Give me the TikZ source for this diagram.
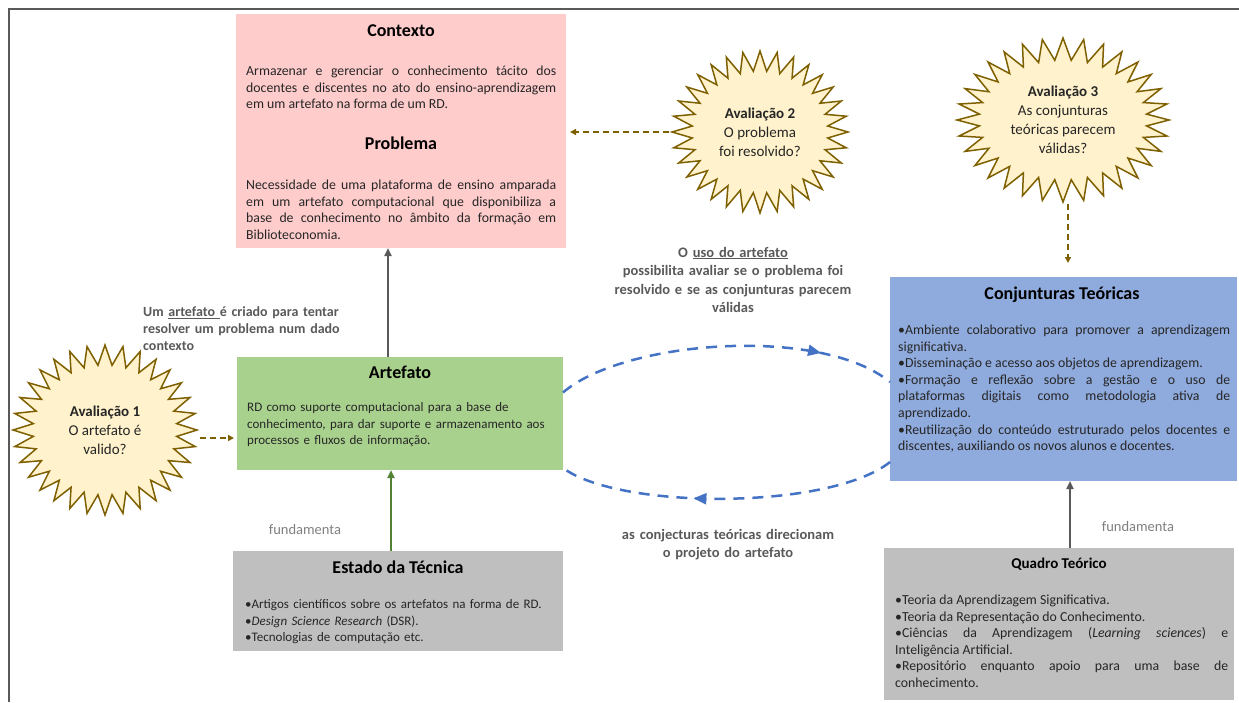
\documentclass[tikz,border=0pt]{standalone}
\usepackage{fontspec}
\setmainfont{Carlito}
\usetikzlibrary{shapes.symbols,arrows.meta,decorations.markings,calc}
\definecolor{pinkbox}{HTML}{FFCCCC}
\definecolor{greenbox}{HTML}{A9D18E}
\definecolor{graybox}{HTML}{BFBFBF}
\definecolor{bluebox}{HTML}{8FAADC}
\definecolor{starfill}{HTML}{FFF2CC}
\definecolor{stardraw}{HTML}{7F6000}
\definecolor{loopblue}{HTML}{4472C4}
\definecolor{arrgray}{HTML}{595959}
\definecolor{arrgreen}{HTML}{548235}
\definecolor{notegray}{HTML}{595959}
\definecolor{fundgray}{HTML}{7F7F7F}
\definecolor{bodytext}{HTML}{262626}
\definecolor{framecol}{HTML}{595959}
\newcommand\fsBody{\fontsize{13.8pt}{16.6pt}\selectfont}
\newcommand\fsBodyS{\fontsize{13pt}{16.6pt}\selectfont}
\newcommand\fsTitle{\fontsize{18pt}{21pt}\selectfont\bfseries}
\newcommand\fsTitleS{\fontsize{15pt}{18pt}\selectfont\bfseries}
\newcommand\fsStar{\fontsize{15pt}{19pt}\selectfont}
\newcommand\fsNote{\fontsize{14.5pt}{18.5pt}\selectfont\bfseries}
\newcommand\fsNoteL{\fontsize{14pt}{17pt}\selectfont\bfseries}
\newcommand\fsFund{\fontsize{14.5pt}{17pt}\selectfont}
\begin{document}
\begin{tikzpicture}[x=1pt,y=-1pt,
  panel/.style={rectangle, inner sep=0pt, outer sep=0pt},
  ttl/.style={inner sep=0pt, font=\fsTitle, text=black, anchor=base},
  body/.style={inner sep=0pt, font=\fsBody, text=bodytext, anchor=base west},
  burst/.style={starburst, starburst points=32, random starburst=0,
    starburst point height=20pt, fill=starfill, draw=stardraw, line width=1.5pt,
    align=center, font=\fsStar, text=bodytext, inner sep=0pt},
  goldarrow/.style={draw=stardraw, line width=2.2pt, dash pattern=on 6pt off 4pt,
    -{Triangle[length=6pt,width=6pt]}},
  grayarrow/.style={draw=arrgray, line width=2.3pt, -{Triangle[length=8pt,width=7pt]}},
  greenarrow/.style={draw=arrgreen, line width=2pt, -{Triangle[length=8pt,width=7pt]}},
  loopline/.style={draw=loopblue, line width=2.5pt, dash pattern=on 11pt off 8pt},
  note/.style={inner sep=0pt, font=\fsNote, text=notegray, align=center, anchor=base},
  fund/.style={inner sep=0pt, font=\fsFund, text=fundgray, anchor=base}
]
\useasboundingbox (0,0) rectangle (1239,702);
% frame
\draw[framecol, line width=2pt] (9,702) -- (9,9) -- (1239,9);

% panels
\node[panel, fill=pinkbox, minimum width=330pt, minimum height=234pt] (ctx) at (401,131) {};
\node[panel, fill=greenbox, minimum width=326pt, minimum height=113pt] (art) at (400,413.5) {};
\node[panel, fill=graybox, minimum width=330pt, minimum height=100pt] (est) at (398,601) {};
\node[panel, fill=bluebox, minimum width=347pt, minimum height=204pt] (conj) at (1063.5,379) {};
\node[panel, fill=graybox, minimum width=350pt, minimum height=152pt] (qt) at (1059,624) {};

% loops
\draw[loopline, postaction={decorate}, decoration={markings,
    mark=at position 0.78 with {\arrow{Triangle[length=13pt,width=11pt]}}}]
  ([yshift=21pt]art.east) .. controls +(60,-52) and +(-70,-57) .. ([yshift=-3pt]conj.west);
\draw[loopline, postaction={decorate}, decoration={markings,
    mark=at position 0.6 with {\arrow{Triangle[length=13pt,width=11pt]}}}]
  ([yshift=-83pt]conj.west) .. controls +(-60,48) and +(57,42) .. ([yshift=-54.5pt]art.east);

% Contexto / Problema
\node[ttl] (ctxT) at (401,36) {Contexto};
\node[body, text width=310pt, align=justify] (ctxB) at (246,75.5)
  {Armazenar e gerenciar o conhecimento tácito dos\linebreak
   docentes e discentes no ato do ensino-aprendizagem\linebreak
   em um artefato na forma de um RD.};
\node[ttl] (probT) at (401,149) {Problema};
\node[body, text width=310pt, align=justify] (probB) at (246,189.5)
  {Necessidade de uma plataforma de ensino amparada\linebreak
   em um artefato computacional que disponibiliza a\linebreak
   base de conhecimento no âmbito da formação em\linebreak
   Biblioteconomia.};

% Artefato
\node[ttl] (artT) at (400,378) {Artefato};
\node[body, font=\fsBodyS, text width=330pt, align=left] (artB) at (247,411.5)
  {RD como suporte computacional para a base de\\
   conhecimento, para dar suporte e armazenamento aos\\
   processos e fluxos de informação.};

% Estado da Tecnica
\node[ttl] (estT) at (398,573) {Estado da Técnica};
\node[body, font=\fsBodyS, text width=330pt, align=left] (estB) at (245,608.5)
  {•Artigos científicos sobre os artefatos na forma de RD.\\
   •\textit{Design Science Research} (DSR).\\
   •Tecnologias de computação etc.};

% Conjunturas
\node[ttl] (conjT) at (1062,299) {Conjunturas Teóricas};
\node[body, text width=332pt, align=justify] (conjB) at (898,334.5)
  {•Ambiente colaborativo para promover a aprendizagem\linebreak
   significativa.\par
   •Disseminação e acesso aos objetos de aprendizagem.\par
   •Formação e reflexão sobre a gestão e o uso de\linebreak
   plataformas digitais como metodologia ativa de\linebreak
   aprendizado.\par
   •Reutilização do conteúdo estruturado pelos docentes e\linebreak
   discentes, auxiliando os novos alunos e docentes.};

% Quadro Teorico
\node[ttl, font=\fsTitleS] (qtT) at (1059,568) {Quadro Teórico};
\node[body, text width=333pt, align=justify] (qtB) at (895,604.5)
  {•Teoria da Aprendizagem Significativa.\par
   •Teoria da Representação do Conhecimento.\par
   •Ciências da Aprendizagem (\textit{Learning sciences}) e\linebreak
   Inteligência Artificial.\par
   •Repositório enquanto apoio para uma base de\linebreak
   conhecimento.};

% starbursts
\node[burst, minimum width=184pt, minimum height=170pt] (av1) at (105,430)
  {\textbf{Avaliação 1}\\O artefato é\\valido?};
\node[burst, minimum width=176pt, minimum height=162pt] (av2) at (760,132)
  {\textbf{Avaliação 2}\\O problema\\foi resolvido?};
\node[burst, minimum width=212pt, minimum height=164pt, starburst point height=22pt] (av3) at (1063,120)
  {\textbf{Avaliação 3}\\As conjunturas\\teóricas parecem\\válidas?};

% connectors
\draw[grayarrow] ([xshift=-12pt]art.north) -- ([xshift=-12pt]art.north |- ctx.south);
\draw[greenarrow] ([xshift=-7pt]est.north) -- ([xshift=-7pt]est.north |- art.south);
\draw[grayarrow] ([xshift=11pt]qt.north) -- ([xshift=11pt]qt.north |- conj.south);
\draw[goldarrow, shorten >=3pt] ([yshift=-8pt]av1.east) -- ([yshift=-8pt]av1.east -| art.west);
\draw[goldarrow, shorten >=4pt] (av2.west) -- (av2.west -| ctx.east);
\draw[goldarrow, shorten >=14pt] ([xshift=5pt]av3.south) -- ([xshift=5pt]av3.south |- conj.north);

% notes
\node[note, text width=320pt] (noteTop) at (733,257)
  {O \underline{uso do artefato}\\possibilita avaliar se o problema foi\\resolvido e se as conjunturas parecem\\válidas};
\node[note, text width=300pt] (noteBot) at (728,539)
  {as conjecturas teóricas direcionam\\o projeto do artefato};
\node[inner sep=0pt, font=\fsNoteL, text=notegray, text width=230pt, align=left, anchor=base west] (noteLeft) at (143,316.5)
  {Um \underline{artefato\ }é criado para tentar\\resolver um problema num dado\\contexto};
\node[fund] (fundL) at (305,534) {fundamenta};
\node[fund] (fundR) at (1138,531) {fundamenta};
\end{tikzpicture}
\end{document}
